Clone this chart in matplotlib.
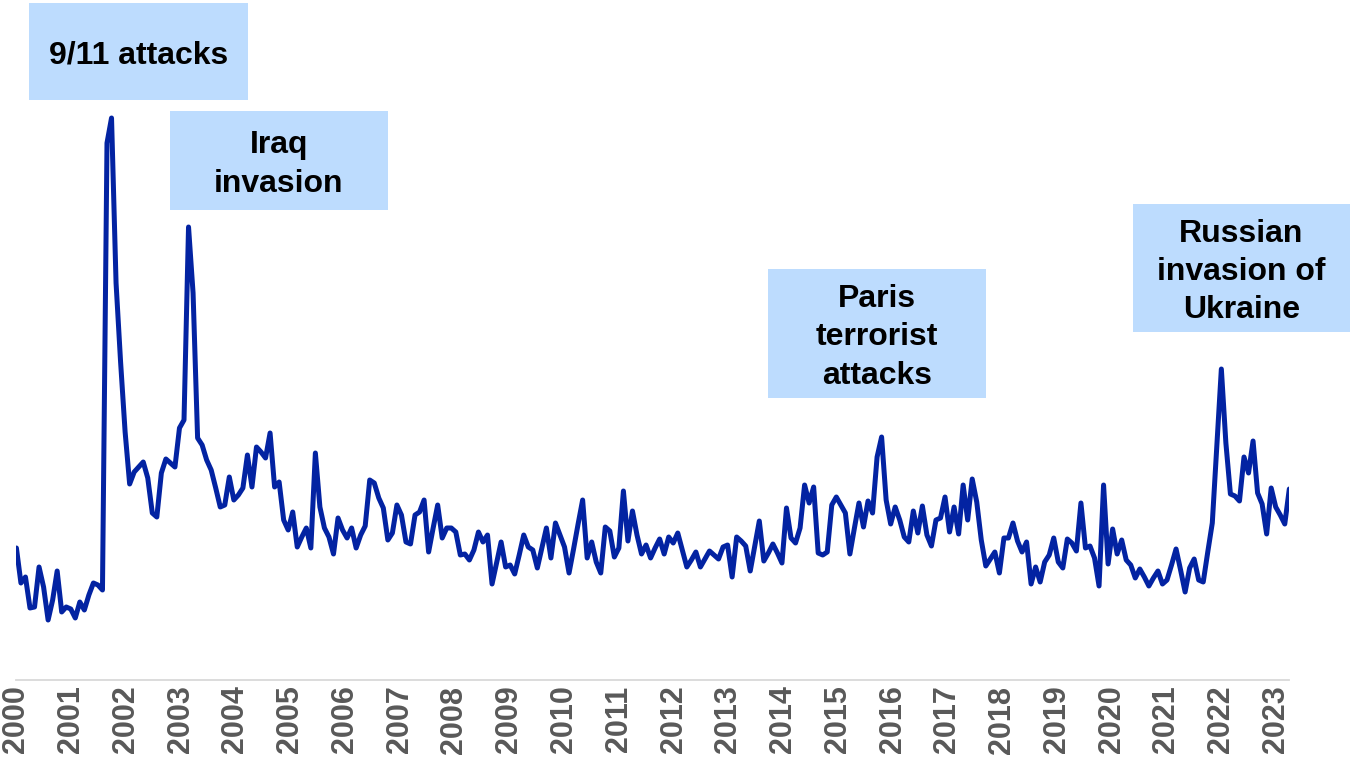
import matplotlib
matplotlib.use("Agg")
import matplotlib.pyplot as plt
from matplotlib.patches import Rectangle

plt.rcParams['font.family'] = ['Liberation Sans', 'DejaVu Sans']

# Monthly geopolitical risk index, Jan 2000 - Jun 2023
gpr_2000 = [132, 97, 103, 72, 73, 113, 93, 60, 80, 109, 68, 73]
gpr_2001 = [71, 62, 78, 70, 85, 97, 95, 90, 537, 562, 397, 318]
gpr_2002 = [248, 196, 208, 213, 218, 202, 167, 163, 207, 221, 217, 213]
gpr_2003 = [252, 260, 453, 387, 242, 235, 220, 210, 192, 173, 175, 203]
gpr_2004 = [180, 185, 192, 225, 193, 233, 228, 222, 247, 193, 198, 160]
gpr_2005 = [150, 168, 133, 143, 152, 132, 227, 173, 152, 143, 126, 162]
gpr_2006 = [150, 142, 152, 132, 145, 154, 200, 197, 182, 172, 140, 147]
gpr_2007 = [175, 165, 138, 136, 165, 168, 180, 128, 152, 175, 142, 152]
gpr_2008 = [152, 148, 125, 126, 120, 130, 148, 138, 145, 96, 117, 138]
gpr_2009 = [113, 115, 106, 125, 145, 133, 130, 112, 132, 152, 122, 157]
gpr_2010 = [145, 133, 107, 131, 156, 180, 122, 138, 118, 107, 153, 149]
gpr_2011 = [123, 132, 189, 139, 169, 145, 126, 135, 122, 132, 141, 126]
gpr_2012 = [143, 137, 147, 130, 113, 120, 128, 113, 121, 129, 125, 121]
gpr_2013 = [133, 135, 103, 143, 139, 134, 109, 134, 159, 119, 127, 136]
gpr_2014 = [127, 117, 172, 142, 137, 152, 195, 177, 193, 127, 125, 128]
gpr_2015 = [175, 183, 175, 167, 126, 152, 177, 153, 179, 167, 223, 243]
gpr_2016 = [180, 156, 173, 160, 143, 138, 169, 147, 174, 145, 134, 160]
gpr_2017 = [162, 183, 148, 173, 146, 195, 160, 201, 178, 140, 114, 121]
gpr_2018 = [128, 107, 142, 142, 157, 139, 128, 138, 96, 113, 98, 118]
gpr_2019 = [125, 142, 118, 112, 141, 137, 129, 177, 132, 134, 122, 94]
gpr_2020 = [195, 116, 151, 126, 140, 120, 115, 102, 111, 103, 94, 102]
gpr_2021 = [109, 96, 100, 115, 131, 110, 88, 112, 121, 100, 98, 128]
gpr_2022 = [157, 234, 311, 237, 186, 184, 179, 223, 207, 239, 187, 176]
gpr_2023 = [146, 192, 173, 165, 156, 191]

gpr = (gpr_2000 + gpr_2001 + gpr_2002 + gpr_2003 + gpr_2004 + gpr_2005
       + gpr_2006 + gpr_2007 + gpr_2008 + gpr_2009 + gpr_2010 + gpr_2011
       + gpr_2012 + gpr_2013 + gpr_2014 + gpr_2015 + gpr_2016 + gpr_2017
       + gpr_2018 + gpr_2019 + gpr_2020 + gpr_2021 + gpr_2022 + gpr_2023)

years = list(range(2000, 2024))

events = ["9/11 attacks", "Iraq\ninvasion", "Paris\nterrorist\nattacks",
          "Russian\ninvasion of\nUkraine"]

W, H = 1351, 766
fig = plt.figure(figsize=(W / 100, H / 100), dpi=100)
rect = [16.4 / W, 86 / H, (1289.3 - 16.4) / W, 680 / H]
ax = fig.add_axes(rect)

months = list(range(len(gpr)))
ax.plot(months, gpr, color="#0323A2", linewidth=3.6, solid_joinstyle="round",
        solid_capstyle="round")

ax.set_xlim(0, len(gpr) - 1)
ax.set_ylim(0, 680)
for side in ("top", "right", "left"):
    ax.spines[side].set_visible(False)
ax.spines["bottom"].set_color("#D9D9D9")
ax.spines["bottom"].set_linewidth(1.3)
ax.set_yticks([])
ax.set_xticks([])

# Year labels on their own axis, spread evenly under the series
yax = fig.add_axes(rect, frameon=False)
yax.patch.set_visible(False)
yax.set_xlim(2000.0, 2023.245)
yax.set_yticks([])
yax.set_xticks(years)
yax.set_xticklabels([str(y) for y in years], rotation=90, fontsize=22,
                    fontweight="bold", color="#595959")
yax.tick_params(axis="x", length=0, pad=4)

# Event call-out boxes (pixel boxes: left, top, right, bottom)
boxes = [(29, 3, 248, 100), (170, 111, 388, 210),
         (768, 269, 986, 398), (1133, 204, 1350, 332)]
for label, (x0, y0, x1, y1) in zip(events, boxes):
    fig.add_artist(Rectangle((x0 / W, 1 - y1 / H), (x1 - x0) / W, (y1 - y0) / H,
                             transform=fig.transFigure, facecolor="#BDDCFE",
                             edgecolor="none", zorder=3))
    fig.text((x0 + x1) / 2 / W, 1 - ((y0 + y1) / 2 + 4) / H, label, ha="center",
             va="center", multialignment="center", fontsize=23,
             fontweight="bold", color="black", zorder=4, linespacing=1.36)

fig.savefig("out.png", dpi=100)
